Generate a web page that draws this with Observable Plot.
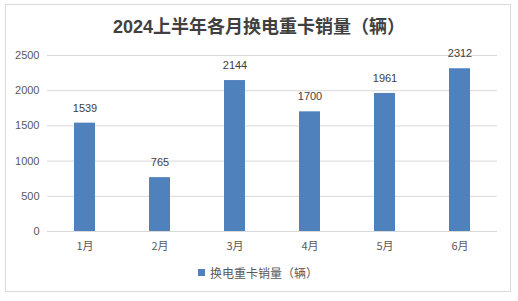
<!DOCTYPE html>
<html><head><meta charset="utf-8">
<script src="https://cdn.jsdelivr.net/npm/d3@7"></script>
<script src="https://cdn.jsdelivr.net/npm/@observablehq/plot@0.6"></script>
<style>
body{margin:0;background:#fff;font-family:"Liberation Sans","Noto Sans CJK SC",sans-serif;}
#wrap{position:relative;width:518px;height:301px;overflow:hidden;}
#frame{position:absolute;left:5px;top:4px;width:506px;height:288px;border:1px solid #d9d9d9;box-sizing:border-box;}
#title{position:absolute;left:0;top:12px;width:518px;text-align:center;font-size:18px;font-weight:bold;color:#404040;font-family:"Liberation Sans","Noto Sans CJK SC",sans-serif;}
#chart{position:absolute;left:0;top:0;}
#legend{position:absolute;left:198px;top:264px;font-size:12px;color:#595959;display:flex;align-items:center;font-family:"Noto Sans CJK SC",sans-serif;}
#legend span.sw{display:inline-block;width:7px;height:7px;background:#4f81bd;margin-right:5px;}
</style></head>
<body>
<div id="wrap">
<div id="frame"></div>
<div id="title">2024上半年各月换电重卡销量（辆）</div>
<div id="chart"></div>
<div id="legend"><span class="sw"></span><span>换电重卡销量（辆）</span></div>
</div>
<script>
const months = ["1月","2月","3月","4月","5月","6月"];
const sales = [1539, 765, 2144, 1700, 1961, 2312];
const yTicks = [0, 500, 1000, 1500, 2000, 2500];
const data = months.map((m, i) => ({month: m, value: sales[i]}));

const plot = Plot.plot({
  width: 518,
  height: 260,
  marginLeft: 47,
  marginRight: 21,
  marginTop: 55,
  marginBottom: 29,
  style: {fontFamily: '"Liberation Sans","Noto Sans CJK SC",sans-serif', fontSize: "11px", color: "#595959", background: "transparent"},
  x: {domain: months, paddingInner: 0.72, paddingOuter: 0.36, label: null},
  y: {domain: [0, 2500], label: null},
  marks: [
    Plot.gridY(yTicks, {stroke: "#d9d9d9", strokeOpacity: 1}),
    Plot.barY(data, {x: "month", y: "value", fill: "#4f81bd"}),
    Plot.ruleY([0], {stroke: "#d9d9d9"}),
    Plot.text(data, {x: "month", y: "value", text: d => String(d.value), dy: -15, fill: "#404040", fontSize: 11}),
    Plot.axisY({ticks: yTicks, tickFormat: d => String(d), tickSize: 0, tickPadding: 8, fill: "#595959", fontSize: 11}),
    Plot.axisX({tickSize: 0, tickPadding: 11, fill: "#595959", fontSize: 11, fontFamily: '"Noto Sans CJK SC",sans-serif'})
  ]
});
document.getElementById("chart").appendChild(plot);
</script>
</body></html>
